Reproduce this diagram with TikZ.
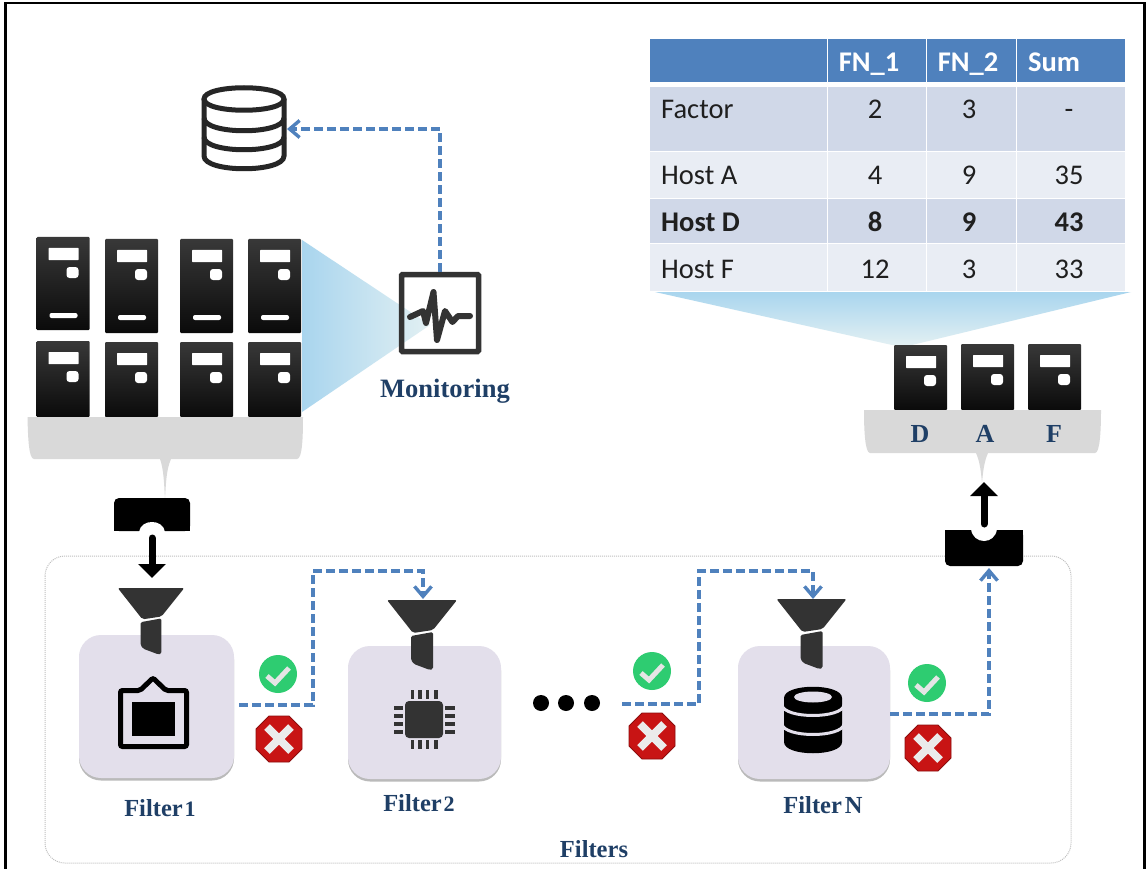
\documentclass[tikz,border=0pt]{standalone}
\usepackage{fontspec}
\setmainfont{Liberation Serif}
\newfontfamily\tabfont{Carlito}
\usetikzlibrary{arrows.meta,shadows}
\definecolor{navy}{HTML}{1F3F66}
\definecolor{flowblue}{HTML}{4F81BD}
\definecolor{trayg}{HTML}{D9D9D9}
\definecolor{boxc}{HTML}{E3DFEB}
\definecolor{thead}{HTML}{4F81BD}
\definecolor{tdark}{HTML}{D0D8E8}
\definecolor{tlight}{HTML}{E9EDF4}
\definecolor{ink}{HTML}{333333}
\definecolor{conea}{HTML}{A9D5EE}
\definecolor{coneb}{HTML}{E2F0F3}
\definecolor{okgreen}{HTML}{2ECC71}
\definecolor{nored}{HTML}{C81414}
\tikzset{
 flow/.style={draw=flowblue,line width=3.8pt,dash pattern=on 9pt off 4pt,-{Straight Barb[length=10pt,width=17pt,line width=3.4pt]}},
 bigarrow/.style={draw=black,line width=7pt,line cap=round,-{Triangle[length=14pt,width=27pt]}},
 fbox/.style={fill=boxc,rounded corners=22pt,inner sep=0pt,drop shadow={shadow xshift=0pt,shadow yshift=-2.5pt,opacity=.45,fill=black!60}},
 lab/.style={text=navy,inner sep=0pt,anchor=base,font=\fontsize{24.5}{26}\selectfont\bfseries},
 cell/.style={inner sep=0pt,anchor=base,text=black!88,font=\tabfont\fontsize{28.5}{30}\selectfont},
 celll/.style={cell,anchor=base west},
 cellb/.style={cell,font=\tabfont\fontsize{28.5}{30}\selectfont\bfseries},
 cellbl/.style={cellb,anchor=base west},
 cellh/.style={cell,text=white,font=\tabfont\fontsize{28.5}{30}\selectfont\bfseries},
 okmark/.pic={
  \fill[okgreen] (0,0) circle[radius=19pt];
  \draw[white!90!black,line width=5pt,line join=miter] (-11,2) -- (-3,9) -- (11,-6);
 },
 nomark/.pic={
  \fill[fill=nored,draw=nored!70!black,line width=.8pt] (-23,-10) -- (-10,-23) -- (10,-23) -- (23,-10) -- (23,10) -- (10,23) -- (-10,23) -- (-23,10) -- cycle;
  \draw[white!92!black,line width=8pt] (-12,-12) -- (12,12) (12,-12) -- (-12,12);
 },
 funnelpic/.pic={
  \fill[ink,rounded corners=2pt] (-35,0) -- (35,0) -- (11,30) -- (-9,33) -- cycle;
  \fill[ink,rounded corners=1.5pt] (-11,36) -- (11,32) -- (11,69) -- (8,70) -- (-8,64) -- (-11,60) -- cycle;
 },
}
\newcommand{\srvbox}[4]{% x y h bar
 \shade[top color=black!78,bottom color=black!96,rounded corners=1pt] (#1,#2) rectangle ++(53,#3);
 \fill[white,rounded corners=.5pt] (#1+12,#2+11) rectangle ++(30,12);
 \fill[white,rounded corners=3pt] (#1+30,#2+30) rectangle ++(12,11);
 \ifnum#4=1 \fill[white,rounded corners=2pt] (#1+13,#2+76) rectangle ++(28,5);\fi
}
\begin{document}
\begin{tikzpicture}[x=1pt,y=-1pt]
\useasboundingbox (0,0) rectangle (1146,869);
\fill[white] (0,0) rectangle (1146,869);
% frame
\fill[black] (4,2) rectangle (1146,4);
\fill[black] (4,2) rectangle (7,869);
\fill[black] (1143,2) rectangle (1146,869);
% container
\draw[black!25,densely dotted,line width=1pt,rounded corners=20pt] (45,556) rectangle (1071,863);
% cones
\shade[left color=conea,right color=coneb] (302,240) -- (430,325) -- (302,412) -- cycle;
\shade[top color=conea,bottom color=coneb] (655,292) -- (1131,292) -- (912,345) -- (892,345) -- cycle;
% table
\fill[thead] (649.5,39) rectangle (1125,82);
\fill[tdark] (649.5,87) rectangle (1125,152);
\fill[tlight] (649.5,152) rectangle (1125,199);
\fill[tdark] (649.5,199) rectangle (1125,244);
\fill[tlight] (649.5,244) rectangle (1125,291);
\draw[white,line width=1pt] (827,39) -- (827,291) (926,39) -- (926,291) (1016,39) -- (1016,291)
 (649.5,152) -- (1125,152) (649.5,199) -- (1125,199) (649.5,244) -- (1125,244);
\node[cellh] (h1) at (869,72) {FN\_1};
\node[cellh] (h2) at (968,72) {FN\_2};
\node[cellh] (h3) at (1054,72) {Sum};
\node[celll] (r1) at (661,119) {Factor};
\node[cell] (r1a) at (875,119) {2};
\node[cell] (r1b) at (969,119) {3};
\node[cell] (r1c) at (1069,119) {-};
\node[celll] (r2) at (661,185) {Host A};
\node[cell] (r2a) at (875,185) {4};
\node[cell] (r2b) at (969,185) {9};
\node[cell] (r2c) at (1069,185) {35};
\node[cellbl] (r3) at (661,232) {Host D};
\node[cellb] (r3a) at (875,232) {8};
\node[cellb] (r3b) at (969,232) {9};
\node[cellb] (r3c) at (1069,232) {43};
\node[celll] (r4) at (661,279) {Host F};
\node[cell] (r4a) at (875,279) {12};
\node[cell] (r4b) at (969,279) {3};
\node[cell] (r4c) at (1069,279) {33};
% servers left
\srvbox{36.5}{237}{93}{1}
\srvbox{105}{239}{94}{1}
\srvbox{180}{239}{94}{1}
\srvbox{248}{239}{94}{1}
\srvbox{36.5}{341}{76}{0}
\srvbox{105}{342}{75}{0}
\srvbox{180}{342}{75}{0}
\srvbox{248}{342}{75}{0}
% tray left
\fill[trayg] (27.5,417) -- (303,417) .. controls (303,440) and (302,459) .. (297,459) -- (171,459)
 .. controls (166,470) and (166,485) .. (165,498) .. controls (164,485) and (164,470) .. (160,459)
 -- (34,459) .. controls (29,459) and (28,440) .. (27.5,417) -- cycle;
% tray top black
\fill[black,rounded corners=5pt] (114,531) -- (114,498) -- (190,498) -- (190,531) -- cycle;
\fill[black] (114,525) rectangle (190,531);
\fill[white] (139,532) .. controls (140,525) and (146,522) .. (152,522) .. controls (158,522) and (164,525) .. (165,532) -- cycle;
\node[coordinate] (port1) at (152,538) {};
\node[coordinate] (funnelin1) at (152,578) {};
\draw[bigarrow] (port1) -- (funnelin1);
% monitor
\node[draw=ink,line width=5.5pt,rounded corners=1pt,minimum width=77pt,minimum height=77pt,inner sep=0pt] (mon) at (440,313) {};
\draw[ink,line width=6pt,line cap=round,line join=round] (410,317) -- (423,311) -- (426,323) -- (433.5,292) -- (437,340) -- (445,311) -- (452.5,322) -- (458,316) -- (470,316);
\node[lab,font=\fontsize{26.5}{28}\selectfont\bfseries] (monlab) at (445,397) {Monitoring};
% db outline
\draw[black!85,line width=5pt] (204,99) .. controls (204,84) and (284,84) .. (284,99) .. controls (284,114) and (204,114) .. (204,99) -- cycle;
\draw[black!85,line width=5pt] (204,99) -- (204,156) .. controls (204,173) and (284,173) .. (284,156) -- (284,99);
\draw[black!85,line width=5pt] (204,118) .. controls (204,135) and (284,135) .. (284,118);
\draw[black!85,line width=5pt] (204,137) .. controls (204,154) and (284,154) .. (284,137);
\node[coordinate] (dbin) at (287,129) {};
\draw[flow] (mon.north) |- (dbin);
% right servers
\srvbox{894}{345}{65}{0}
\srvbox{961}{344}{66}{0}
\srvbox{1028}{344}{66}{0}
\fill[trayg] (864,410) -- (1101,410) .. controls (1101,430) and (1100,453) .. (1095,453) -- (988,453)
 .. controls (984,462) and (983,472) .. (982,483) .. controls (981,472) and (980,462) .. (976,453)
 -- (870,453) .. controls (865,453) and (864,430) .. (864,410) -- cycle;
\node[lab,font=\fontsize{26}{28}\selectfont\bfseries] (lD) at (920,442) {D};
\node[lab,font=\fontsize{26}{28}\selectfont\bfseries] (lA) at (985,442) {A};
\node[lab,font=\fontsize{26}{28}\selectfont\bfseries] (lF) at (1054,442) {F};
% out tray
\fill[black,rounded corners=5pt] (945,530) -- (1023,530) -- (1023,566) -- (945,566) -- cycle;
\fill[black] (945,530) rectangle (1023,537);
\fill[white] (971,529) .. controls (972,537) and (978,541) .. (984,541) .. controls (990,541) and (996,537) .. (997,529) -- cycle;
\node[coordinate] (port2) at (984,524) {};
\node[coordinate] (trayup) at (984,482) {};
\draw[bigarrow] (port2) -- (trayup);
% filters
\node[fbox,minimum width=155pt,minimum height=143pt] (box1) at (156.5,706.5) {};
\node[fbox,minimum width=153pt,minimum height=133pt] (box2) at (424.5,712.5) {};
\node[fbox,minimum width=152pt,minimum height=133pt] (boxN) at (814,712.5) {};
\pic[scale=.95] at (151,588) {funnelpic};
\pic at (422,600) {funnelpic};
\pic at (811.5,599) {funnelpic};
% icon 1
\draw[black,line width=5pt,rounded corners=2pt] (120.5,690.5) -- (140,690.5) -- (153,678) -- (166,690.5) -- (186.5,690.5) -- (186.5,746.5) -- (120.5,746.5) -- cycle;
\fill[black] (132,702) rectangle (175,736);
% chip
\fill[ink,rounded corners=4pt] (405,701) rectangle (443,738);
\foreach \px in {412.5,420,427.5,436}{
 \fill[ink] (\px-1.7,690) rectangle (\px+1.7,699);
 \fill[ink] (\px-1.7,740) rectangle (\px+1.7,749);
}
\foreach \py in {708,716,724,732}{
 \fill[ink] (394,\py-1.7) rectangle (403,\py+1.7);
 \fill[ink] (445,\py-1.7) rectangle (455,\py+1.7);
}
% solid db
\fill[black] (784,698) .. controls (784,683) and (842,683) .. (842,698) -- (842,742) .. controls (842,757) and (784,757) .. (784,742) -- cycle;
\draw[boxc,line width=3pt] (782,705) .. controls (784,719) and (842,719) .. (844,705);
\draw[boxc,line width=3pt] (782,724) .. controls (784,738) and (842,738) .. (844,724);
\fill[boxc] (813,697) ellipse[x radius=19pt,y radius=5.5pt];
% labels
\node[lab] (f1) at (160,816) {Filter\hspace{2pt}{\fontsize{22}{22}\selectfont 1}};
\node[lab] (f2) at (419,811) {Filter\hspace{2pt}{\fontsize{22}{22}\selectfont 2}};
\node[lab] (fN) at (823,813) {Filter\hspace{3pt}N};
\node[lab] (fs) at (594,857) {Filters};
% marks
\pic at (278,674) {okmark};
\pic at (279,739) {nomark};
\pic at (652,671) {okmark};
\pic at (652,736) {nomark};
\pic at (927,683) {okmark};
\pic at (928,748) {nomark};
% dots
\fill[black] (541,703) circle[radius=8pt] (566,703) circle[radius=8pt] (592,703) circle[radius=8pt];
% flows
\node[coordinate] (in2) at (423,599) {};
\node[coordinate] (inN) at (813,599) {};
\node[coordinate] (via1) at (313,571) {};
\node[coordinate] (via2) at (699,571) {};
\node[coordinate] (out2) at (622,704) {};
\node[coordinate] (outT) at (989,568) {};
\draw[flow] ([xshift=5pt,yshift=1.5pt]box1.east) -| (via1) -| (in2);
\draw[flow] (out2) -| (via2) -| (inN);
\draw[flow] ([yshift=-1.5pt]boxN.east) -| (outT);
\end{tikzpicture}
\end{document}
